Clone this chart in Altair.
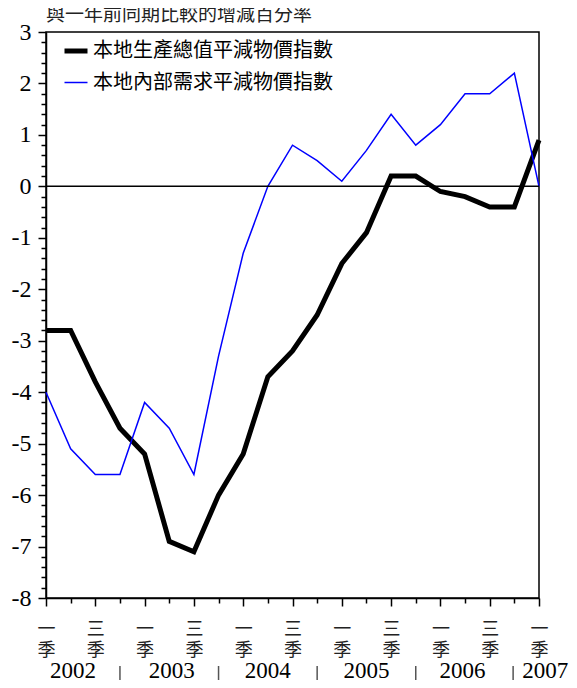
import altair as alt
import pandas as pd

# quarters 2002 Q1 .. 2007 Q1
quarters = ["2002Q1","2002Q2","2002Q3","2002Q4","2003Q1","2003Q2","2003Q3","2003Q4",
            "2004Q1","2004Q2","2004Q3","2004Q4","2005Q1","2005Q2","2005Q3","2005Q4",
            "2006Q1","2006Q2","2006Q3","2006Q4","2007Q1"]
gdp_deflator = [-2.8,-2.8,-3.8,-4.7,-5.2,-6.9,-7.1,-6.0,-5.2,-3.7,-3.2,-2.5,
                -1.5,-0.9,0.2,0.2,-0.1,-0.2,-0.4,-0.4,0.9]
dd_deflator = [-4.0,-5.1,-5.6,-5.6,-4.2,-4.7,-5.6,-3.3,-1.3,0.0,0.8,0.5,
               0.1,0.7,1.4,0.8,1.2,1.8,1.8,2.2,0.0]
series_names = ["本地生產總值平減物價指數", "本地內部需求平減物價指數"]
series_colors = ["#000000", "#0000FF"]
series_widths = [5, 1.5]

years = ["2002", "2003", "2004", "2005", "2006", "2007"]
year_pos = [1.1, 5.1, 9.0, 13.0, 16.9, 20.25]
year_breaks = [3, 7, 11, 15, 18.95]

title_text = "與一年前同期比較的增減百分率"

rows = []
for name, vals in zip(series_names, [gdp_deflator, dd_deflator]):
    for i, (q, v) in enumerate(zip(quarters, vals)):
        rows.append({"idx": i, "quarter": q, "value": v, "series": name})
df = pd.DataFrame(rows)

NUM_FONT = "Liberation Serif"
CJK_FONT = "Noto Sans CJK TC"

y_values = [round(-8 + 0.2 * i, 1) for i in range(56)]
x_values = list(range(len(quarters)))

xscale = alt.Scale(domain=[0, len(quarters) - 1], nice=False, zero=False)
yscale = alt.Scale(domain=[-8, 3], nice=False, zero=False)

xaxis = alt.Axis(
    values=x_values, title=None, grid=False,
    tickSize={"condition": {"test": "datum.value % 2 == 0", "value": 8}, "value": 5},
    tickColor="black", tickWidth=1.5, domainColor="black", domainWidth=1.5,
    labelExpr="datum.value % 4 == 0 ? ['一','季'] : (datum.value % 4 == 2 ? ['三','季'] : '')",
    labelFont=CJK_FONT, labelFontSize=18, labelLineHeight=21, labelColor="#222",
    labelBaseline="top", labelPadding=14, labelOverlap=False, labelFlush=False,
    labelAngle=0,
)
yaxis = alt.Axis(
    values=y_values, title=None, grid=False,
    tickSize={"condition": {"test": "abs(datum.value - round(datum.value)) < 0.01", "value": 8}, "value": 5},
    tickColor="black", tickWidth=1.5, domainColor="black", domainWidth=1.5,
    labelExpr="abs(datum.value - round(datum.value)) < 0.01 ? '' + round(datum.value) : ''",
    labelFont=NUM_FONT, labelFontSize=24, labelColor="black", labelPadding=7,
    labelOverlap=False, labelFlush=False,
)

color_scale = alt.Scale(domain=series_names, range=series_colors)
width_scale = alt.Scale(domain=series_names, range=series_widths)

legend = alt.Legend(
    title=None, orient="none", legendX=16, legendY=5, padding=0,
    symbolType="stroke", symbolSize=529, labelFont=CJK_FONT, labelFontSize=20,
    labelColor="black", labelOffset=3, rowPadding=9, labelLimit=400,
)

base = alt.Chart(df)

def line_layer(name):
    return base.transform_filter(alt.datum.series == name).mark_line(strokeJoin="miter").encode(
        x=alt.X("idx:Q", scale=xscale, axis=xaxis),
        y=alt.Y("value:Q", scale=yscale, axis=yaxis),
        color=alt.Color("series:N", scale=color_scale, legend=legend),
        strokeWidth=alt.StrokeWidth("series:N", scale=width_scale, legend=legend),
    )

zero = alt.Chart(pd.DataFrame({"v": [0]})).mark_rule(color="black", strokeWidth=1.5).encode(
    y=alt.Y("v:Q", scale=yscale, axis=yaxis)
)

year_df = pd.DataFrame({"year": years, "pos": year_pos})
year_text = alt.Chart(year_df).mark_text(
    font=NUM_FONT, fontSize=23, baseline="alphabetic", align="center", color="black"
).encode(x=alt.X("pos:Q", scale=xscale, axis=xaxis), y=alt.value(646), text="year:N")

break_df = pd.DataFrame({"pos": year_breaks})
breaks = alt.Chart(break_df).mark_rule(color="#555", strokeWidth=1.5).encode(
    x=alt.X("pos:Q", scale=xscale, axis=xaxis), y=alt.value(634), y2=alt.value(662)
)

title = alt.Chart(pd.DataFrame({"t": [title_text]})).mark_text(
    font=CJK_FONT, fontSize=19, align="left", baseline="middle", color="#222"
).encode(x=alt.value(0), y=alt.value(-17), text="t:N")

chart = alt.layer(
    line_layer(series_names[0]), line_layer(series_names[1]), zero, year_text, breaks, title
).properties(
    width=493, height=566,
    autosize=alt.AutoSizeParams(type="none"),
    padding={"left": 38, "top": 24, "right": 30, "bottom": 82},
).configure(background="white").configure_view(stroke="black", strokeWidth=1.5)

chart.save("out.html", embed_options={"renderer": "svg", "actions": False})
